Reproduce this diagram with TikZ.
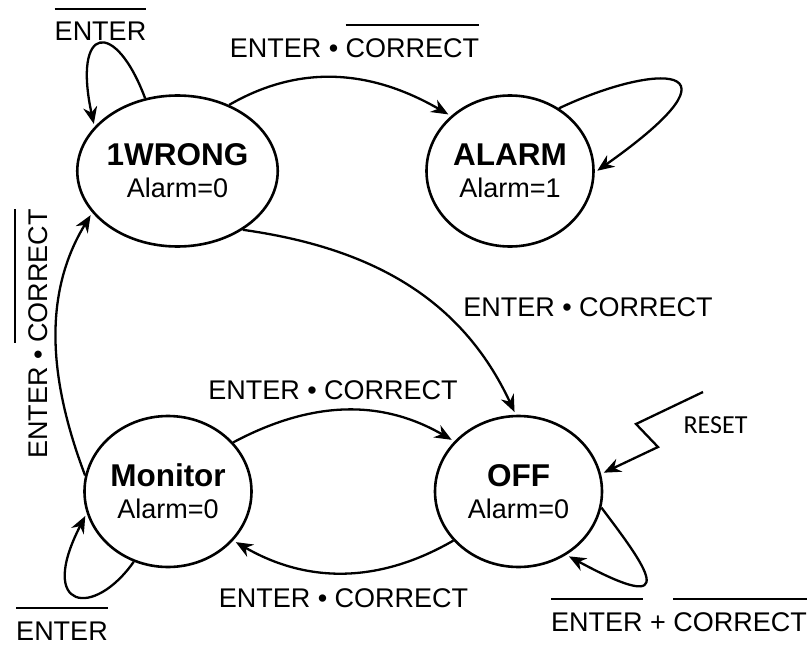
\documentclass[tikz,border=0pt]{standalone}
\usepackage{fontspec}
\setmainfont{Liberation Sans}
\newfontfamily\resetfont{Carlito}
\usetikzlibrary{shapes.geometric, arrows.meta}
\newcommand{\ovr}[1]{\setbox0=\hbox{#1}\rlap{\raisebox{31pt}{\rule{\wd0}{2pt}}}\box0\relax}

\begin{document}
\begin{tikzpicture}[x=1pt, y=-1pt,
    state/.style={draw, ellipse, line width=2.6pt, minimum width=167pt, minimum height=151pt,
      inner sep=0pt, align=center, font={\fontsize{27}{32}\selectfont}},
    trans/.style={line width=2.3pt, shorten >=3pt, -{Stealth[length=17pt, width=14pt]}},
    lbl/.style={anchor=base, inner sep=0pt, font={\fontsize{27}{32}\selectfont}}]
  \useasboundingbox (0,0) rectangle (812,645);

  % states
  \node[state] (wrong) at (177.5,171) {{\fontsize{31.5}{32}\selectfont\bfseries 1WRONG}\\Alarm=0};
  \node[state] (alarm) at (510,171) {{\fontsize{31.5}{32}\selectfont\bfseries ALARM}\\Alarm=1};
  \node[state] (monitor) at (168,491.5) {{\fontsize{31.5}{32}\selectfont\bfseries Monitor}\\Alarm=0};
  \node[state] (off) at (518.5,491.5) {{\fontsize{31.5}{32}\selectfont\bfseries OFF}\\Alarm=0};

  % transitions
  \draw[trans] (wrong.52) to[out=30, in=150] (alarm.137);
  \draw[trans] (alarm.52) .. controls +(95,-45) and +(160,-113) .. (alarm.359);
  \draw[trans] (wrong.318) to[out=-8, in=115] (off.92);
  \draw[trans] (wrong.114) .. controls +(-30,-80) and +(-22,-102) .. (wrong.152);
  \draw[trans] (monitor.169) .. controls +(-36,-95) and +(-50,82) .. (wrong.206);
  \draw[trans] (monitor.37) to[out=28, in=150] (off.142);
  \draw[trans] (off.217) to[out=-150, in=-30] (monitor.323);
  \draw[trans] (monitor.244) .. controls +(-40,57) and +(-50,97) .. (monitor.195);
  \draw[trans] (off.349) .. controls +(43,57) and +(120,65) .. (off.307);
  \coordinate (rst) at (703,392);
  \draw[trans] (rst) -- (636,424) -- (658,447) -- (off.12);

  % labels
  \node[lbl] (l-wloop) at (100.5,41) {\ovr{ENTER}};
  \node[lbl] (l-wa) at (354.5,57) {ENTER • \ovr{CORRECT}};
  \node[lbl] (l-wo) at (588,316) {ENTER • CORRECT};
  \node[lbl] (l-mo) at (333,399) {ENTER • CORRECT};
  \node[lbl] (l-om) at (343.5,607) {ENTER • CORRECT};
  \node[lbl] (l-mloop) at (62,640) {\ovr{ENTER}};
  \node[lbl] (l-oloop) at (679,631) {\ovr{ENTER} + \ovr{CORRECT}};
  \node[lbl, rotate=90] (l-mw) at (47,334) {ENTER • \ovr{CORRECT}};
  \node[lbl, font={\resetfont\fontsize{26}{30}\selectfont}] (l-rst) at (715.5,433) {RESET};
\end{tikzpicture}
\end{document}
